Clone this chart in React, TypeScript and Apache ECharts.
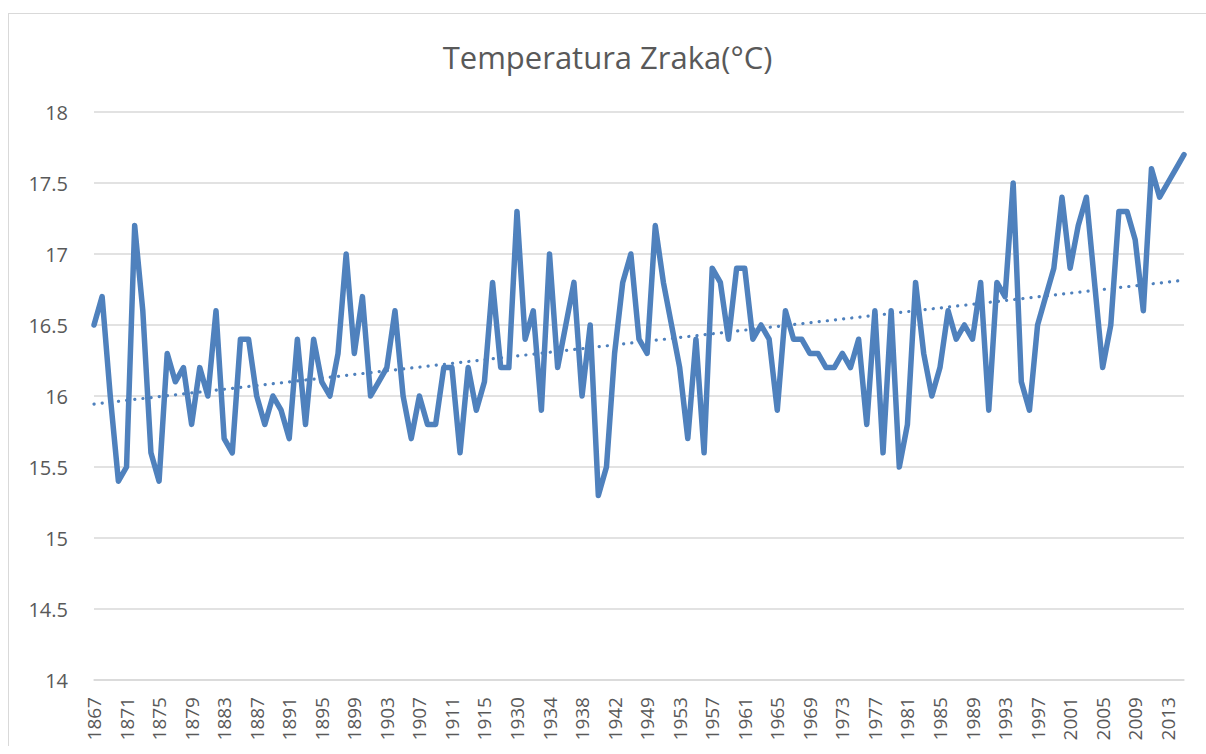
import React, { useEffect, useRef } from "react";
import * as echarts from "echarts";

const years: string[] = [
  "1867","1868","1869","1870","1871","1872","1873","1874","1875","1876",
  "1877","1878","1879","1880","1881","1882","1883","1884","1885","1886",
  "1887","1888","1889","1890","1891","1892","1893","1894","1895","1896",
  "1897","1898","1899","1900","1901","1902","1903","1904","1905","1906",
  "1907","1908","1909","1910","1911","1912","1913","1914","1915","1916",
  "1917","1918","1930","1931","1932","1933","1934","1935","1936","1937",
  "1938","1939","1940","1941","1942","1943","1947","1948","1949","1950",
  "1951","1952","1953","1954","1955","1956","1957","1958","1959","1960",
  "1961","1962","1963","1964","1965","1966","1967","1968","1969","1970",
  "1971","1972","1973","1974","1975","1976","1977","1978","1979","1980",
  "1981","1982","1983","1984","1985","1986","1987","1988","1989","1990",
  "1991","1992","1993","1994","1995","1996","1997","1998","1999","2000",
  "2001","2002","2003","2004","2005","2006","2007","2008","2009","2010",
  "2011","2012","2013","2014","2015",
];

const temperature: number[] = [
  16.5, 16.7, 16.0, 15.4, 15.5, 17.2, 16.6, 15.6, 15.4, 16.3,
  16.1, 16.2, 15.8, 16.2, 16.0, 16.6, 15.7, 15.6, 16.4, 16.4,
  16.0, 15.8, 16.0, 15.9, 15.7, 16.4, 15.8, 16.4, 16.1, 16.0,
  16.3, 17.0, 16.3, 16.7, 16.0, 16.1, 16.2, 16.6, 16.0, 15.7,
  16.0, 15.8, 15.8, 16.2, 16.2, 15.6, 16.2, 15.9, 16.1, 16.8,
  16.2, 16.2, 17.3, 16.4, 16.6, 15.9, 17.0, 16.2, 16.5, 16.8,
  16.0, 16.5, 15.3, 15.5, 16.3, 16.8, 17.0, 16.4, 16.3, 17.2,
  16.8, 16.5, 16.2, 15.7, 16.4, 15.6, 16.9, 16.8, 16.4, 16.9,
  16.9, 16.4, 16.5, 16.4, 15.9, 16.6, 16.4, 16.4, 16.3, 16.3,
  16.2, 16.2, 16.3, 16.2, 16.4, 15.8, 16.6, 15.6, 16.6, 15.5,
  15.8, 16.8, 16.3, 16.0, 16.2, 16.6, 16.4, 16.5, 16.4, 16.8,
  15.9, 16.8, 16.7, 17.5, 16.1, 15.9, 16.5, 16.7, 16.9, 17.4,
  16.9, 17.2, 17.4, 16.8, 16.2, 16.5, 17.3, 17.3, 17.1, 16.6,
  17.6, 17.4, 17.5, 17.6, 17.7,
];

const titleText = "Temperatura Zraka(°C)";
const yMin = 14;
const yMax = 18;
const yStep = 0.5;

// Linear (least-squares) trendline derived from the series
function linearTrend(vals: number[]): number[] {
  const n = vals.length;
  let sx = 0, sy = 0, sxx = 0, sxy = 0;
  vals.forEach((v, i) => {
    sx += i; sy += v; sxx += i * i; sxy += i * v;
  });
  const b = (n * sxy - sx * sy) / (n * sxx - sx * sx);
  const a = (sy - b * sx) / n;
  return vals.map((_, i) => +(a + b * i).toFixed(4));
}

const trend = linearTrend(temperature);

const FONT = "'Open Sans', 'Noto Sans', sans-serif";
const BLUE = "#4f81bd";
const GRAY = "#595959";
const GRID = "#d9d9d9";

export default function App() {
  const ref = useRef<HTMLDivElement>(null);

  useEffect(() => {
    if (!ref.current) return;
    const chart = echarts.init(ref.current, undefined, { renderer: "svg" });
    chart.setOption({
      animation: false,
      backgroundColor: "#ffffff",
      title: {
        text: titleText,
        left: "center",
        top: 22,
        textStyle: {
          fontFamily: FONT,
          fontSize: 31,
          fontWeight: "normal",
          color: GRAY,
        },
      },
      grid: { left: 85, right: 22, top: 98, bottom: 66, containLabel: false },
      xAxis: {
        type: "category",
        data: years,
        boundaryGap: false,
        axisLine: { show: true, lineStyle: { color: GRID, width: 1.5 } },
        axisTick: { show: false },
        axisLabel: {
          interval: 3,
          rotate: 90,
          margin: 17,
          fontFamily: FONT,
          fontSize: 19,
          color: GRAY,
        },
        splitLine: { show: false },
      },
      yAxis: {
        type: "value",
        min: yMin,
        max: yMax,
        interval: yStep,
        axisLine: { show: false },
        axisTick: { show: false },
        axisLabel: {
          margin: 26,
          fontFamily: FONT,
          fontSize: 20,
          color: GRAY,
        },
        splitLine: { show: true, lineStyle: { color: GRID, width: 1.5 } },
      },
      series: [
        {
          type: "line",
          data: temperature,
          symbol: "none",
          smooth: false,
          lineStyle: { color: BLUE, width: 5.5, cap: "round", join: "round" },
          z: 2,
        },
        {
          type: "line",
          data: trend,
          symbol: "none",
          smooth: false,
          lineStyle: { color: BLUE, width: 3.2, type: [0.1, 8.1], cap: "round" },
          z: 3,
        },
      ],
    });
    return () => chart.dispose();
  }, []);

  return (
    <div
      style={{
        position: "absolute",
        left: 8,
        top: 13,
        width: 1198,
        height: 733,
        boxSizing: "border-box",
        borderLeft: "1px solid #d9d9d9",
        borderTop: "1px solid #d9d9d9",
      }}
    >
      <div ref={ref} style={{ width: 1197, height: 732 }} />
    </div>
  );
}
